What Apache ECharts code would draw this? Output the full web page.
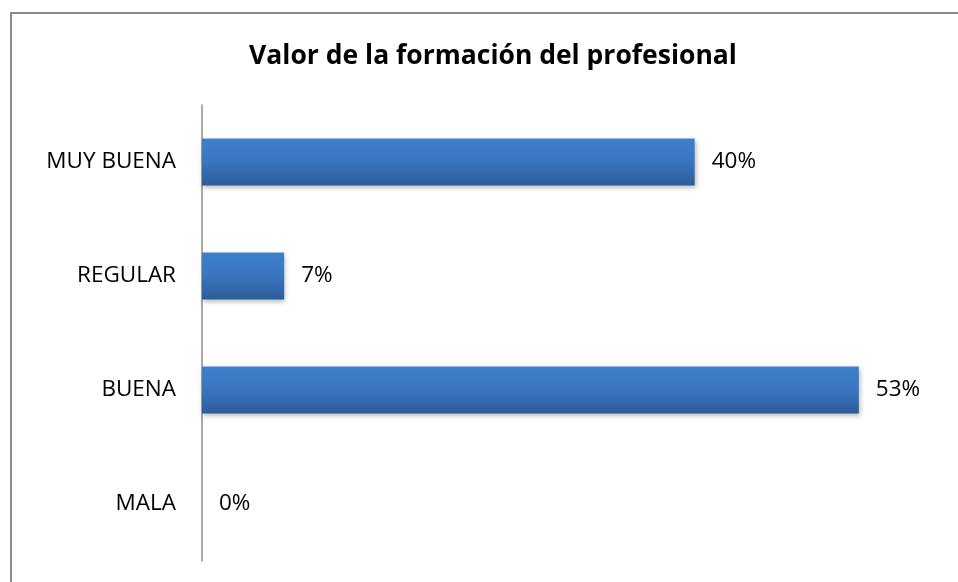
<!DOCTYPE html>
<html>
<head>
<meta charset="utf-8">
<script src="https://cdn.jsdelivr.net/npm/echarts@6/dist/echarts.min.js"></script>
<style>html,body{margin:0;padding:0;background:#fff;}#c{width:958px;height:582px;}</style>
</head>
<body>
<div id="c"></div>
<script>
var categories = ['MALA', 'BUENA', 'REGULAR', 'MUY BUENA'];
var values = [0, 53.33, 6.67, 40];
var titleText = 'Valor de la formación del profesional';

var chart = echarts.init(document.getElementById('c'));
var font = '"Open Sans", "Liberation Sans", sans-serif';
chart.setOption({
  animation: false,
  graphic: [{
    type: 'rect',
    shape: { x: 11, y: 13, width: 1000, height: 1000 },
    style: { fill: 'none', stroke: '#8a8a8a', lineWidth: 2 },
    silent: true
  }],
  title: {
    text: titleText,
    left: 488, top: 38, textAlign: 'center',
    textStyle: { fontFamily: font, fontSize: 26.5, fontWeight: 'bold', color: '#000' }
  },
  grid: { left: 202, top: 105, width: 739, height: 456, containLabel: false },
  xAxis: {
    type: 'value', min: 0, max: 60, interval: 10,
    show: false
  },
  yAxis: {
    type: 'category', data: categories,
    axisLine: { show: true, lineStyle: { color: '#8c8c8c', width: 1.5 } },
    axisTick: { show: false },
    axisLabel: { margin: 26, fontFamily: font, fontSize: 22.5, color: '#000', padding: [4, 0, 0, 0] },
    splitLine: { show: false }
  },
  series: [{
    type: 'bar',
    data: values,
    barWidth: 47,
    itemStyle: {
      color: new echarts.graphic.LinearGradient(0, 0, 0, 1, [
        { offset: 0, color: '#3d7fcd' },
        { offset: 0.45, color: '#3a77c2' },
        { offset: 1, color: '#2d5d9a' }
      ]),
      shadowColor: 'rgba(0,0,0,0.3)', shadowBlur: 5, shadowOffsetX: 1, shadowOffsetY: 2
    },
    label: {
      show: true, position: 'right', distance: 17,
      fontFamily: font, fontSize: 22.5, color: '#000', padding: [4, 0, 0, 0],
      formatter: function (p) { return Math.round(p.value) + '%'; }
    }
  }]
});
</script>
</body>
</html>
